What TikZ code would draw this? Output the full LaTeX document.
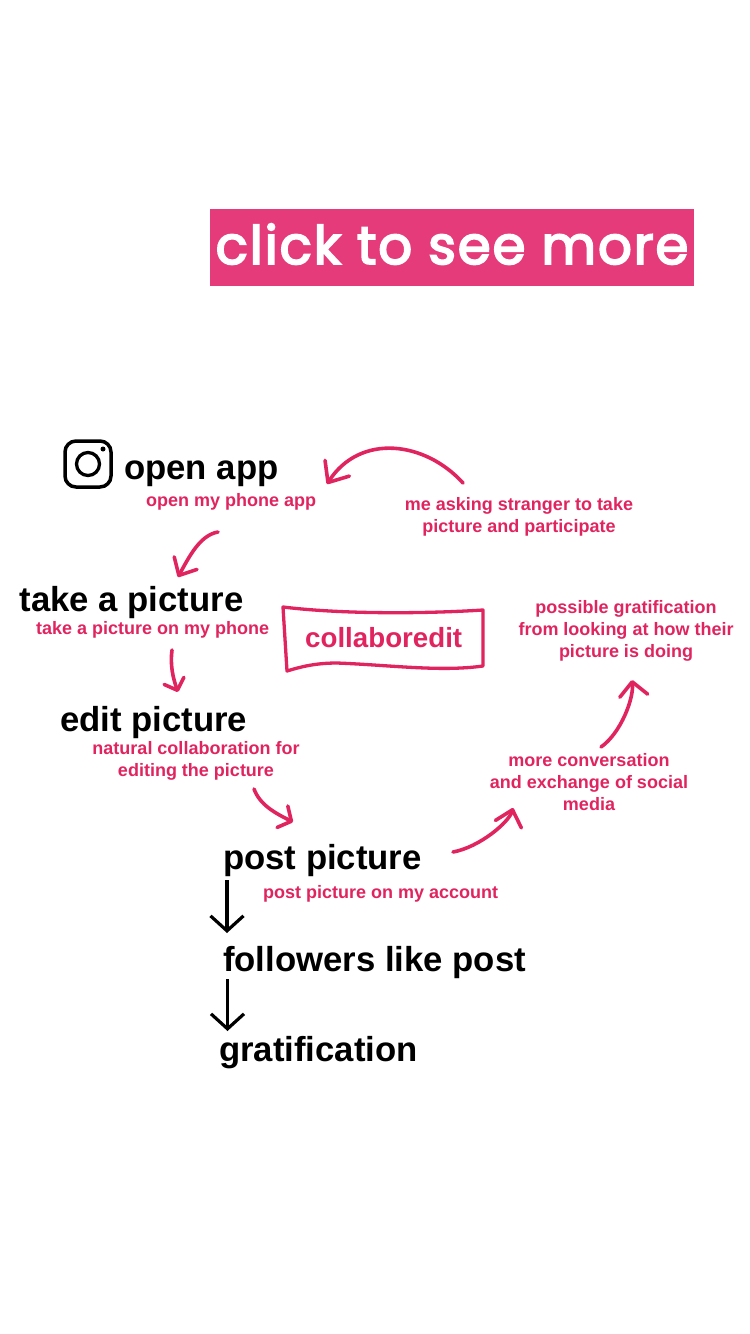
\documentclass[tikz,border=0pt]{standalone}
\usepackage{fontspec}
\setmainfont{Liberation Sans}
\newfontfamily\clickfont{Poppins}[LetterSpace = 3.6, FakeBold = 3.5]
\usepackage{xcolor}
\usepackage{tikz}
\usetikzlibrary{arrows.meta,calc}

\definecolor{apppink}{HTML}{E0245F}
\definecolor{buttonpink}{HTML}{E63B7A}

\tikzset{
  headtext/.style = {anchor = base west, inner sep = 0pt, font = \bfseries\fontsize{34.7}{40}\selectfont},
  notetext/.style = {anchor = base west, inner sep = 0pt, text = apppink, font = \bfseries\fontsize{18}{21.7}\selectfont},
  notelines/.style = {notetext, anchor = center, align = center},
  pinkarrow/.style n args = {2}{draw = apppink, line width = 3.6pt, line cap = round,
    -{Straight Barb[round, length = #1pt, width = #2pt]}},
  blackarrow/.style = {draw = black, line width = 3.2pt, -{Straight Barb[length = 15pt, width = 33pt]}}
}

\begin{document}
\begin{tikzpicture}[x = 1pt, y = -1pt]

\useasboundingbox (0,0) rectangle (750,1334);

\node (button)
[fill = buttonpink,
 text = white,
 inner sep = 0pt,
 minimum width = 484pt,
 minimum height = 77pt,
 text height = 33pt,
 text depth = 0pt,
 font = \clickfont\fontsize{53}{60}\selectfont]
at (452,247.5) {click to see more};

\draw [line width = 3.5pt, rounded corners = 11pt] (65,441) rectangle (111,487);
\draw [line width = 3.3pt] (88,464) circle (11.5);
\fill (103,449) circle (2.5);

\node (openhead) [headtext] at (124,479) {open app};
\node (opennote) [notetext] at (146,506) {open my phone app};
\node (takehead) [headtext] at (19.5,611) {take a picture};
\node (takenote) [notetext] at (36,634) {take a picture on my phone};
\node (edithead) [headtext] at (60,731.5) {edit picture};
\node (editnote) [notelines] at (196,761) {natural collaboration for\\editing the picture};
\node (posthead) [headtext] at (223,869) {post picture};
\node (postnote) [notetext] at (263,898) {post picture on my account};
\node (likehead) [headtext] at (223,971) {followers like post};
\node (gratifhead) [headtext] at (219,1061) {gratification};

\node (asknote) [notelines] at (519,516.5) {me asking stranger to take\\picture and participate};
\node (possiblenote) [notelines] at (626,631) {possible gratification\\from looking at how their\\picture is doing};
\node (convnote) [notelines] at (589,782) {more conversation\\and exchange of social\\media};

\node (collab) [notetext, font = \bfseries\fontsize{27.7}{32}\selectfont] at (305,647) {collaboredit};

\draw [draw = apppink, line width = 3.3pt, line join = round]
  (283,607) .. controls (340,614) and (420,614) .. (483,610)
  -- (483,666)
  .. controls (440,672) and (390,665) .. (337,663)
  .. controls (315,663) and (300,667) .. (287,671)
  -- cycle;

\draw [pinkarrow = {17}{29}] ($(asknote)+(-56,-33.5)$) .. controls +(-38,-42) and +(33,-51) .. ($(openhead.base west)+(203,5)$);
\draw [pinkarrow = {14}{26}] ($(opennote.base west)+(72,26)$) .. controls +(-18,3) and +(11,-20) .. ($(takehead.base west)+(158.5,-34)$);
\draw [pinkarrow = {10}{21}] ($(takenote.base west)+(136,16)$) .. controls +(-2,15) and +(-5,-14) .. ($(edithead.base west)+(118,-39.5)$);
\draw [pinkarrow = {10}{24}] ($(editnote)+(58,28)$) .. controls +(6,16) and +(-18,-9) .. ($(posthead.base west)+(70,-47)$);
\draw [pinkarrow = {15}{27}] ($(posthead.base west)+(230,-17)$) .. controls +(27,-5) and +(-4,14) .. ($(convnote)+(-76,26)$);
\draw [pinkarrow = {14}{28}] ($(convnote)+(12,-35)$) .. controls +(20,-14) and +(2,18) .. ($(possiblenote)+(6,49)$);

\draw [blackarrow] ($(posthead.base west)+(4,11)$) -- ($(likehead.base west)+(4,-38)$);
\draw [blackarrow] ($(likehead.base west)+(4.5,8)$) -- ($(gratifhead.base west)+(8.5,-30)$);

\end{tikzpicture}
\end{document}
